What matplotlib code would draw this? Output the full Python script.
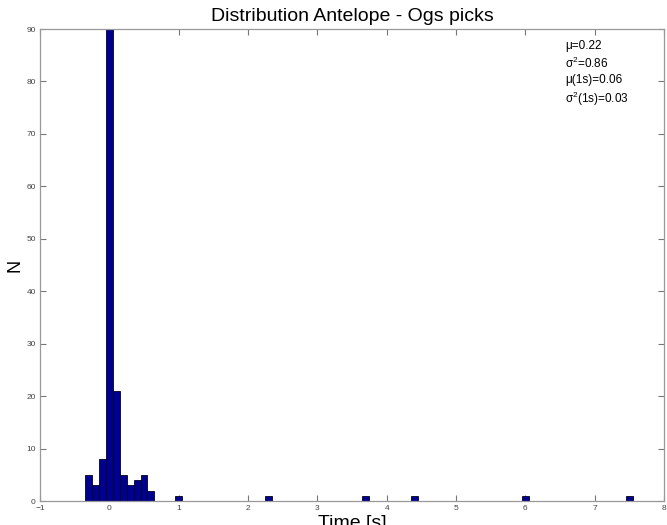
import matplotlib
matplotlib.use("Agg")
import matplotlib.pyplot as plt

plt.rcParams['font.family'] = ['Liberation Sans', 'DejaVu Sans']
plt.rcParams['mathtext.fontset'] = 'custom'
plt.rcParams['mathtext.rm'] = 'Liberation Sans'
plt.rcParams['mathtext.it'] = 'Liberation Sans:italic'

# Histogram bins (centre in seconds) and counts
bin_centers = [-0.3, -0.2, -0.1, 0.0, 0.1, 0.2, 0.3, 0.4, 0.5, 0.6,
               1.0, 2.3, 3.7, 4.4, 6.0, 7.5]
counts = [5, 3, 8, 90, 21, 5, 3, 4, 5, 2,
          1, 1, 1, 1, 1, 1]
bin_width = 0.1

x_ticks = list(range(-1, 9))
y_ticks = list(range(0, 100, 10))

stats_text = "\u03bc=0.22\n\u03c3$^2$=0.86\n\u03bc(1s)=0.06\n\u03c3$^2$(1s)=0.03"

fig = plt.figure(figsize=(6.67, 5.25), dpi=100)
ax = fig.add_axes([0.06, 0.0457, 0.9355, 0.899])

ax.bar(bin_centers, counts, width=bin_width, color=(0, 0, 0.5625),
       edgecolor='#000022', linewidth=0.6, zorder=2)

ax.set_xlim(-1, 8)
ax.set_ylim(0, 90)
ax.set_xticks(x_ticks)
ax.set_yticks(y_ticks)
ax.tick_params(direction='in', length=4, width=0.8, colors='#777777',
               labelsize=6, labelcolor='#444444', top=True, right=True, pad=3)
for s in ax.spines.values():
    s.set_color('#999999')
    s.set_linewidth(0.9)

ax.set_title('Distribution Antelope - Ogs picks', fontsize=14, pad=6)
ax.set_ylabel('N', fontsize=13, labelpad=2)
ax.set_xlabel('Time [s]', fontsize=14, labelpad=2)

ax.text(0.841, 0.976, stats_text, transform=ax.transAxes, fontsize=8.5,
        va='top', ha='left', linespacing=1.3)

fig.savefig('out.png', dpi=100)
